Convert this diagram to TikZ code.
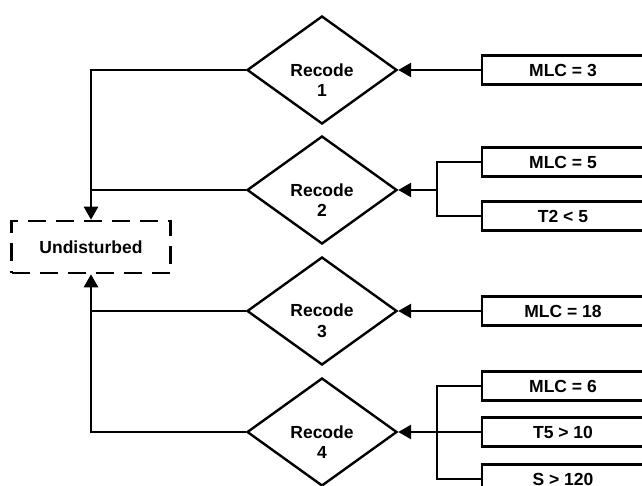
\documentclass[tikz,border=0pt]{standalone}
\usepackage{fontspec}
\setmainfont{Liberation Sans}
\usetikzlibrary{shapes.geometric,arrows.meta}
\begin{document}
\begin{tikzpicture}[x=1pt,y=-1pt,
  line/.style={line width=2.7pt},
  arr/.style={line width=2.7pt,-{Triangle[length=13pt,width=14pt]}},
  dia/.style={diamond,draw,line width=2.4pt,minimum width=150pt,minimum height=108pt,inner sep=0pt},
  lbl/.style={font=\fontsize{17.5}{20.5}\selectfont\bfseries,align=center},
  cbox/.style={draw,line width=2.8pt,minimum width=162pt,minimum height=29pt,inner sep=0pt,font=\fontsize{17.5}{20}\selectfont\bfseries},
  ubox/.style={draw,line width=2.6pt,dash pattern=on 18pt off 10pt,minimum width=159pt,minimum height=52pt,inner sep=0pt,font=\fontsize{17.5}{20}\selectfont\bfseries}]
\useasboundingbox (0,0) rectangle (642,486);
\clip (0,0) rectangle (642,486);
% diamonds
\node[dia] (d1) at (322,70) {};
\node[dia] (d2) at (322,190) {};
\node[dia] (d3) at (322,311) {};
\node[dia] (d4) at (322,432) {};
\node[lbl] (t1) at (322,80) {Recode\\1};
\node[lbl] (t2) at (322,200) {Recode\\2};
\node[lbl] (t3) at (322,321) {Recode\\3};
\node[lbl] (t4) at (322,442) {Recode\\4};
% undisturbed
\node[ubox] (u) at (91,247) {Undisturbed};
% condition boxes
\node[cbox] (b1) at (563,70) {MLC = 3};
\node[cbox] (b2) at (563,162) {MLC = 5};
\node[cbox] (b3) at (563,216) {T2 < 5};
\node[cbox] (b4) at (563,311) {MLC = 18};
\node[cbox] (b5) at (563,386) {MLC = 6};
\node[cbox] (b6) at (563,432) {T5 > 10};
\node[cbox] (b7) at (563,479) {S > 120};
% junctions
\coordinate (j2) at (437,190);
\coordinate (j4) at (437,432);
% right side connectors
\draw[arr] (b1.west) -- (d1.east);
\draw[line] (b2.west) -| (j2) |- (b3.west);
\draw[arr] (j2) -- (d2.east);
\draw[arr] (b4.west) -- (d3.east);
\draw[line] (b5.west) -| (j4) |- (b7.west);
\draw[line] (b6.west) -- (j4);
\draw[arr] (j4) -- (d4.east);
% left side connectors
\draw[arr] (d1.west) -| (u.north);
\draw[line] (d2.west) -- (d2.west -| u.north);
\draw[arr] (d4.west) -| (u.south);
\draw[line] (d3.west) -- (d3.west -| u.south);
\end{tikzpicture}
\end{document}
